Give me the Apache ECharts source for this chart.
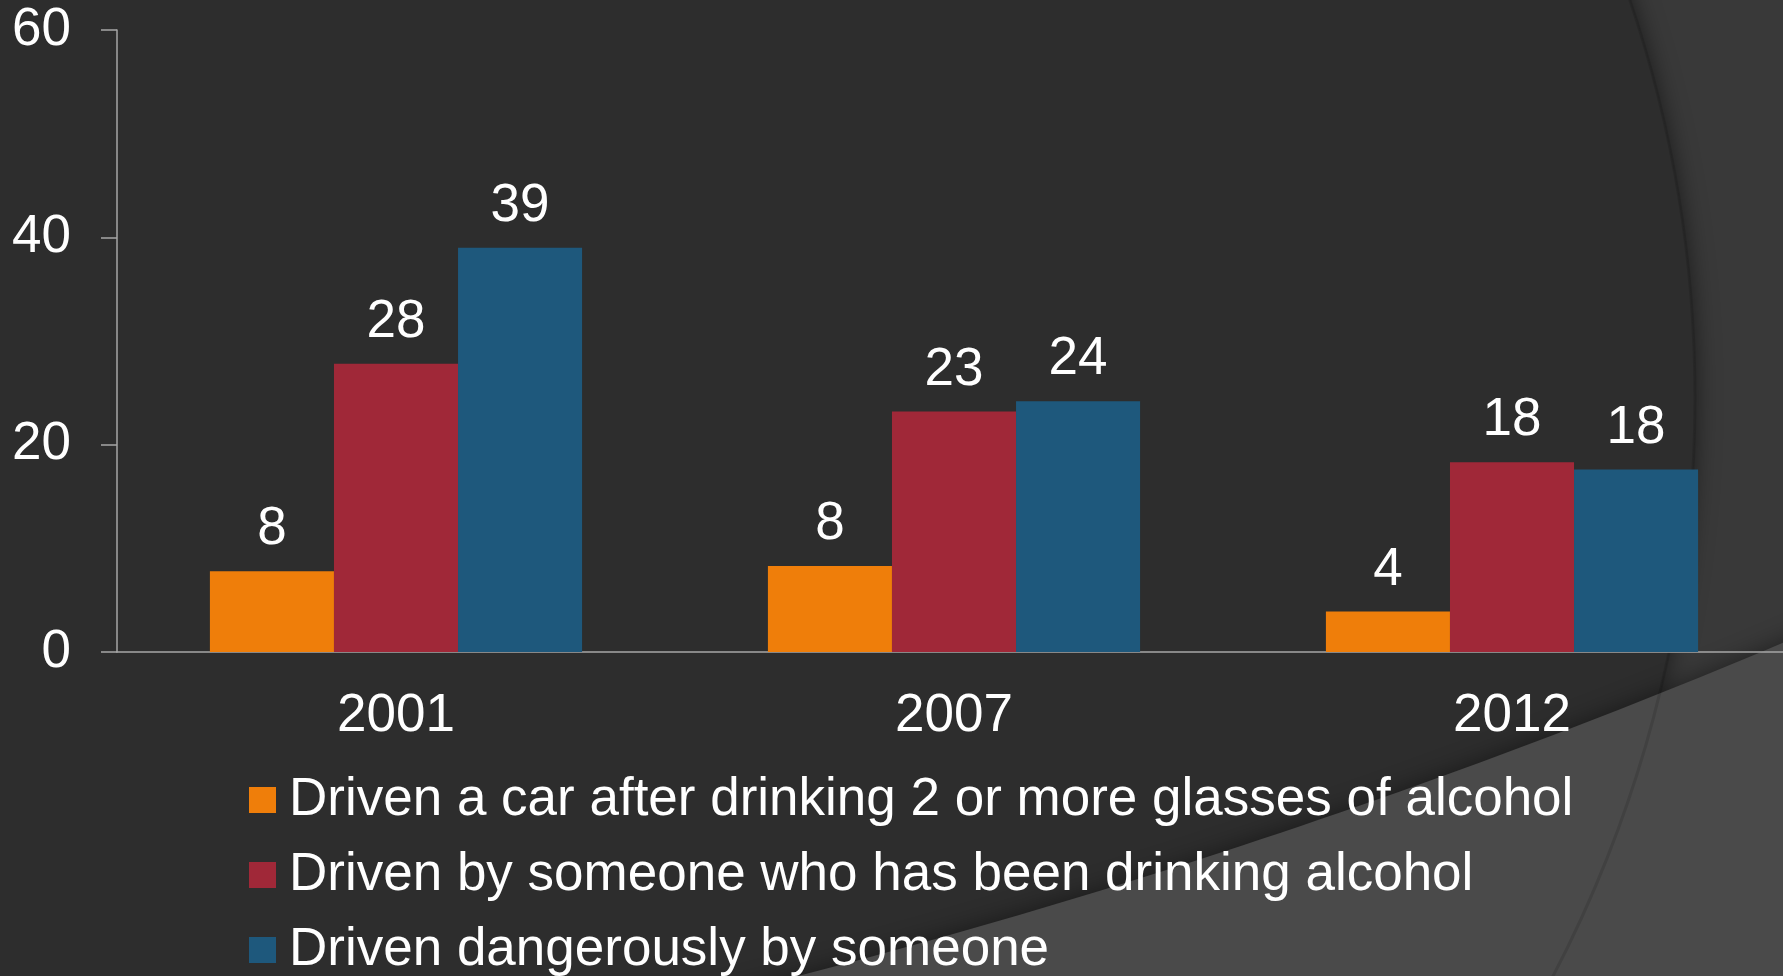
<!DOCTYPE html>
<html>
<head>
<meta charset="utf-8">
<script src="https://cdn.jsdelivr.net/npm/echarts@6/dist/echarts.min.js"></script>
<style>
  html, body { margin: 0; padding: 0; background: #393939; overflow: hidden; }
  #chart { width: 1800px; height: 976px; }
</style>
</head>
<body>
<div id="chart"></div>
<script>
const years = ['2001', '2007', '2012'];
const droveAfterDrinking = [7.8, 8.3, 3.9];
const drivenByDrinker = [27.8, 23.2, 18.3];
const drivenDangerously = [39.0, 24.2, 17.6];
const seriesNames = [
    'Driven a car after drinking 2 or more glasses of alcohol',
    'Driven by someone who has been drinking alcohol',
    'Driven dangerously by someone'
];
const seriesColors = ['#EF7E0A', '#A02838', '#1E587C'];
const yMin = 0, yMax = 60, yStep = 20;

// slide backdrop: big dark circle plus a light wedge at the bottom right
function lowerWedge() {
    const cx = -998, cy = -5954, r = 7159;
    const pts = [];
    for (let x = 600; x <= 1820; x += 20) {
        pts.push([x, cy + Math.sqrt(r * r - (x - cx) * (x - cx))]);
    }
    pts.push([1820, 1000], [600, 1000]);
    return pts;
}

const font = '"Liberation Sans", Arial, sans-serif';
const myChart = echarts.init(document.getElementById('chart'));
myChart.setOption({
    animation: false,
    textStyle: { fontFamily: font },
    graphic: [
        {
            type: 'circle', z: -100, silent: true,
            shape: { cx: 447, cy: 398, r: 1248 },
            style: { fill: '#2D2D2D', shadowBlur: 25, shadowColor: 'rgba(0,0,0,0.55)' }
        },
        {
            type: 'polygon', z: -99, silent: true,
            shape: { points: lowerWedge() },
            style: { fill: '#4A4A4A', shadowBlur: 25, shadowColor: 'rgba(0,0,0,0.45)' }
        },
        {
            type: 'circle', z: -98, silent: true,
            shape: { cx: 447, cy: 398, r: 1248 },
            style: { fill: 'none', stroke: 'rgba(0,0,0,0.12)', lineWidth: 3 }
        }
    ],
    grid: { left: 117, top: 30, width: 1674, height: 622 },
    xAxis: {
        type: 'category',
        data: years,
        axisLine: { lineStyle: { color: '#A6A6A6', width: 1.5 } },
        axisTick: { length: 16, lineStyle: { color: '#A6A6A6', width: 1.5 } },
        axisLabel: { color: '#fff', fontSize: 53, margin: 38, fontFamily: font }
    },
    yAxis: {
        type: 'value',
        min: yMin, max: yMax, interval: yStep,
        splitLine: { show: false },
        axisLine: { show: true, lineStyle: { color: '#A6A6A6', width: 1.5 } },
        axisTick: { show: true, length: 16, lineStyle: { color: '#A6A6A6', width: 1.5 } },
        axisLabel: { color: '#fff', fontSize: 53, margin: 46, fontFamily: font }
    },
    legend: {
        orient: 'vertical',
        left: 249,
        top: 770,
        height: 400,
        padding: 0,
        icon: 'rect',
        itemWidth: 27,
        itemHeight: 26,
        itemGap: 15,
        textStyle: { color: '#fff', fontSize: 53, lineHeight: 60, padding: [0, 0, 0, 8], fontFamily: font },
        data: seriesNames
    },
    series: [droveAfterDrinking, drivenByDrinker, drivenDangerously].map((values, i) => ({
        name: seriesNames[i],
        type: 'bar',
        data: values,
        barGap: '0%',
        barCategoryGap: '33.3%',
        itemStyle: { color: seriesColors[i] },
        label: {
            show: true,
            position: 'top',
            distance: 15,
            color: '#fff',
            fontSize: 53,
            fontFamily: font,
            formatter: p => Math.round(p.value)
        }
    }))
});
</script>
</body>
</html>
